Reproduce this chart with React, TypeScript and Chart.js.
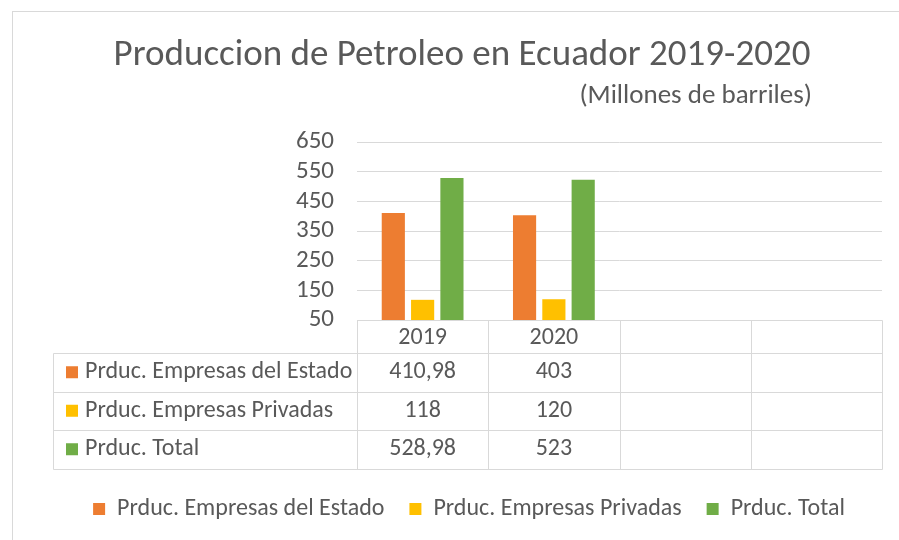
import { useEffect, useRef } from "react";
import { Chart, registerables } from "chart.js";

Chart.register(...registerables);

const categories = ["2019", "2020", "", ""];
const seriesNames = [
  "Prduc. Empresas del Estado",
  "Prduc. Empresas Privadas",
  "Prduc. Total",
];
const estado = [410.98, 403, null, null];
const privadas = [118, 120, null, null];
const total = [528.98, 523, null, null];
const yMin = 50;
const yMax = 650;
const yStep = 100;
const colors = ["#ED7D31", "#FFC000", "#70AD47"];
const titleText = "Produccion de Petroleo en Ecuador 2019-2020";
const subtitleText = "(Millones de barriles)";

const FONT = "Carlito, Lato, 'Open Sans', sans-serif";
const TEXT = "#595959";
const LINE = "#D9D9D9";

const fmt = (v: number | null) => (v == null ? "" : String(v).replace(".", ","));

const decorPlugin = {
  id: "decor",
  beforeDraw(chart: any) {
    const ctx = chart.ctx;
    ctx.save();
    ctx.fillStyle = "#ffffff";
    ctx.fillRect(0, 0, chart.width, chart.height);
    ctx.strokeStyle = LINE;
    ctx.lineWidth = 1;
    ctx.strokeRect(12.5, 11.5, 2000, 2000);
    ctx.fillStyle = TEXT;
    ctx.textBaseline = "middle";
    ctx.textAlign = "center";
    ctx.font = `37px ${FONT}`;
    ctx.fillText(titleText, 462, 56);
    ctx.textAlign = "right";
    ctx.font = `27px ${FONT}`;
    ctx.fillText(subtitleText, 812, 96);
    ctx.restore();
  },
  afterDraw(chart: any) {
    const ctx = chart.ctx;
    const ca = chart.chartArea;
    const xs = chart.scales.x;
    const n = categories.length;
    const cw = (ca.right - ca.left) / n;
    const top = ca.bottom;
    const headerH = 33;
    const rowH = 38.5;
    const left = 52.5;
    const bottom = top + headerH + seriesNames.length * rowH;
    const sets = [estado, privadas, total];
    ctx.save();
    ctx.strokeStyle = LINE;
    ctx.lineWidth = 1;
    const line = (x1: number, y1: number, x2: number, y2: number) => {
      ctx.beginPath();
      ctx.moveTo(Math.round(x1) + 0.5, Math.round(y1) + 0.5);
      ctx.lineTo(Math.round(x2) + 0.5, Math.round(y2) + 0.5);
      ctx.stroke();
    };
    line(ca.left, top, ca.right, top);
    for (let r = 0; r <= seriesNames.length; r++) {
      const y = top + headerH + r * rowH;
      line(left, y, ca.right, y);
    }
    line(left, top + headerH, left, bottom);
    for (let i = 0; i <= n; i++) {
      const xx = ca.left + i * cw;
      line(xx, top, xx, bottom);
    }
    ctx.fillStyle = TEXT;
    ctx.textBaseline = "middle";
    ctx.font = `24px ${FONT}`;
    ctx.textAlign = "center";
    for (let i = 0; i < n; i++) {
      ctx.fillText(categories[i], xs.getPixelForValue(i), top + headerH / 2 + 1);
    }
    for (let r = 0; r < seriesNames.length; r++) {
      const cy = top + headerH + r * rowH + rowH / 2;
      ctx.fillStyle = colors[r];
      ctx.fillRect(66, cy - 6, 12, 12);
      ctx.fillStyle = TEXT;
      ctx.textAlign = "left";
      ctx.fillText(seriesNames[r], 85, cy);
      ctx.textAlign = "center";
      for (let i = 0; i < n; i++) {
        ctx.fillText(fmt(sets[r][i] as any), xs.getPixelForValue(i), cy);
      }
    }
    ctx.restore();
  },
};

export default function App() {
  const ref = useRef<HTMLCanvasElement>(null);
  useEffect(() => {
    const chart = new Chart(ref.current!, {
      type: "bar",
      data: {
        labels: categories,
        datasets: [estado, privadas, total].map((d, i) => ({
          label: seriesNames[i],
          data: d as any,
          backgroundColor: colors[i],
          categoryPercentage: 0.67,
          barPercentage: 0.79,
        })),
      },
      options: {
        animation: false,
        responsive: false,
        layout: { padding: { top: 142, right: 17, left: 56, bottom: 9 } },
        plugins: {
          title: { display: false },
          tooltip: { enabled: false },
          legend: {
            position: "bottom",
            labels: {
              boxWidth: 12,
              boxHeight: 12,
              padding: 25,
              color: TEXT,
              font: { family: FONT, size: 24 },
            },
          },
        },
        scales: {
          x: {
            grid: { display: false },
            border: { display: false },
            ticks: { display: false },
            afterFit: (s: any) => {
              s.height = 152;
            },
          },
          y: {
            min: yMin,
            max: yMax,
            ticks: {
              stepSize: yStep,
              autoSkip: false,
              color: TEXT,
              padding: 23,
              font: { family: FONT, size: 25 },
            },
            grid: { color: LINE, drawTicks: false },
            border: { display: false },
            afterFit: (s: any) => {
              s.width = 301;
            },
          },
        },
      },
      plugins: [decorPlugin],
    });
    return () => chart.destroy();
  }, []);
  return (
    <div style={{ position: "fixed", left: 0, top: 0, width: 899, height: 540 }}>
      <canvas ref={ref} width={899} height={540} style={{ width: 899, height: 540 }} />
    </div>
  );
}
